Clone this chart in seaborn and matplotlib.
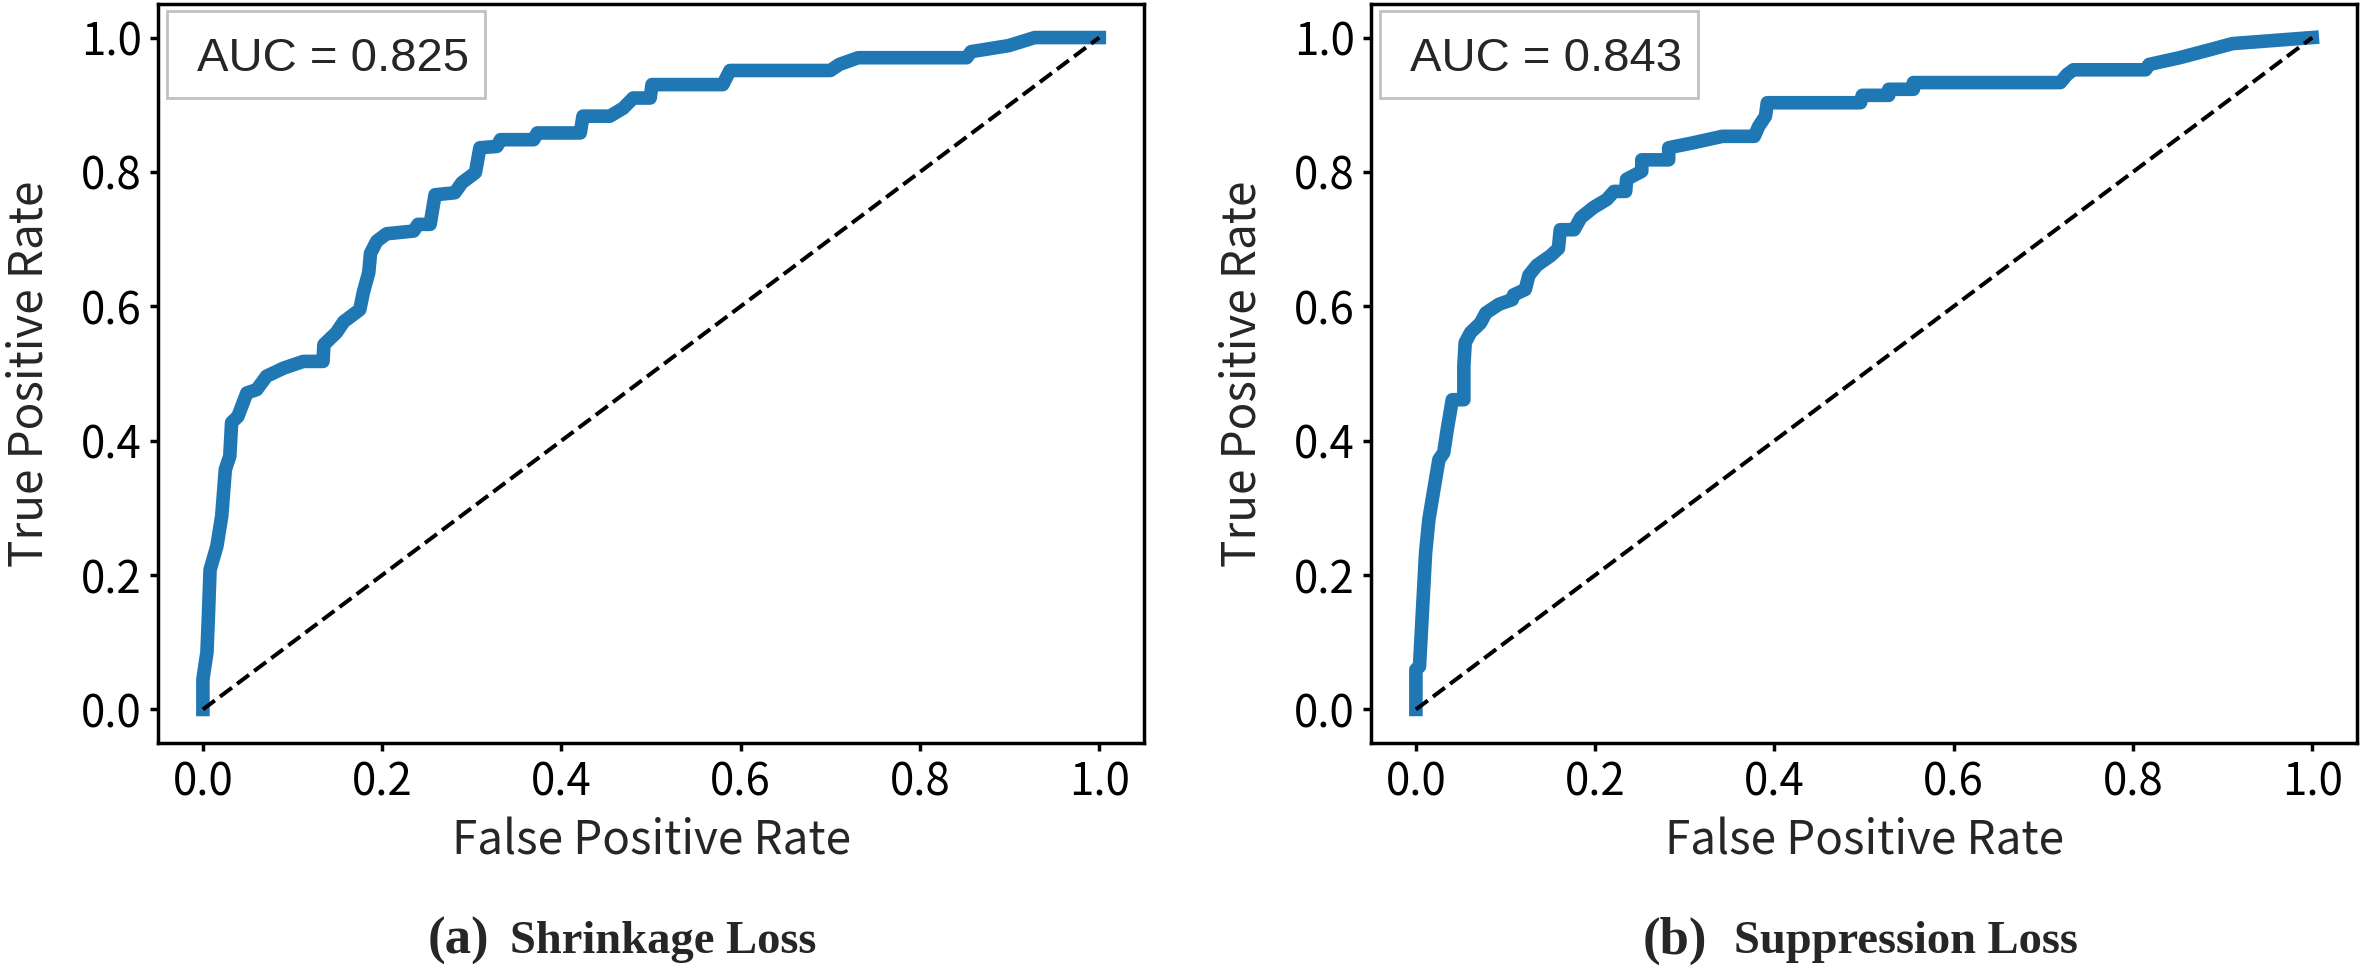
import matplotlib
matplotlib.use("Agg")
import matplotlib.pyplot as plt
import matplotlib.patches as mpatches
import pandas as pd
import seaborn as sns

# ROC curves
shrink_fpr = [0.0, 0.0, 0.0045, 0.006, 0.008, 0.0156, 0.021, 0.025, 0.030, 0.032,
              0.039, 0.049, 0.060, 0.071, 0.090, 0.112, 0.134, 0.135, 0.149, 0.157,
              0.175, 0.179, 0.185, 0.187, 0.194, 0.205, 0.235, 0.240, 0.2535, 0.259,
              0.281, 0.289, 0.304, 0.309, 0.328, 0.332, 0.369, 0.373, 0.421, 0.424,
              0.454, 0.469, 0.480, 0.499, 0.501, 0.580, 0.588, 0.700, 0.710, 0.731,
              0.852, 0.857, 0.899, 0.928, 1.0]
shrink_tpr = [0.0, 0.045, 0.085, 0.134, 0.208, 0.243, 0.288, 0.357, 0.377, 0.427,
              0.436, 0.471, 0.476, 0.496, 0.508, 0.518, 0.518, 0.543, 0.561, 0.577,
              0.595, 0.621, 0.650, 0.679, 0.697, 0.708, 0.712, 0.722, 0.722, 0.766,
              0.769, 0.784, 0.799, 0.836, 0.838, 0.848, 0.848, 0.858, 0.858, 0.883,
              0.883, 0.895, 0.910, 0.910, 0.930, 0.930, 0.951, 0.951, 0.960, 0.970,
              0.970, 0.979, 0.988, 1.0, 1.0]

suppress_fpr = [0.0, 0.0, 0.004, 0.0108, 0.0145, 0.020, 0.0257, 0.031, 0.035, 0.0406,
                0.0535, 0.0535, 0.055, 0.061, 0.072, 0.078, 0.0926, 0.1075, 0.109, 0.122,
                0.126, 0.135, 0.150, 0.159, 0.161, 0.1765, 0.184, 0.198, 0.213, 0.221,
                0.234, 0.235, 0.252, 0.252, 0.282, 0.282, 0.308, 0.342, 0.3775, 0.3825,
                0.390, 0.392, 0.496, 0.498, 0.5275, 0.5275, 0.555, 0.555, 0.719, 0.7265,
                0.7335, 0.814, 0.818, 0.852, 0.886, 0.911, 1.0]
suppress_tpr = [0.0, 0.0595, 0.064, 0.233, 0.283, 0.327, 0.372, 0.382, 0.417, 0.461,
                0.461, 0.511, 0.546, 0.561, 0.575, 0.590, 0.603, 0.610, 0.617, 0.625,
                0.646, 0.661, 0.675, 0.686, 0.714, 0.714, 0.732, 0.747, 0.759, 0.771,
                0.771, 0.789, 0.801, 0.818, 0.818, 0.836, 0.843, 0.853, 0.853, 0.868,
                0.883, 0.903, 0.903, 0.914, 0.914, 0.923, 0.923, 0.933, 0.933, 0.945,
                0.952, 0.952, 0.960, 0.970, 0.982, 0.991, 1.0]

auc_values = [0.825, 0.843]
panel_tags = ["(a)", "(b)"]
panel_names = ["Shrinkage Loss", "Suppression Loss"]
tick_values = [0.0, 0.2, 0.4, 0.6, 0.8, 1.0]
tick_labels = ["0.0", "0.2", "0.4", "0.6", "0.8", "1.0"]

sns.set_style("ticks")
plt.rcParams['font.family'] = ['Noto Sans CJK SC', 'DejaVu Sans']

fig, axes = plt.subplots(1, 2, figsize=(23.63, 9.67), dpi=100)
fig.subplots_adjust(left=0.0669, right=0.9975, bottom=0.2316, top=0.9959, wspace=0.2302)

curves = [(shrink_fpr, shrink_tpr), (suppress_fpr, suppress_tpr)]
tag_x = [0.1811, 0.6953]
name_x = [0.2158, 0.7338]

for i, ax in enumerate(axes):
    fpr, tpr = curves[i]
    df = pd.DataFrame({"fpr": fpr, "tpr": tpr})
    sns.lineplot(data=df, x="fpr", y="tpr", ax=ax, sort=False, estimator=None,
                 color="#1f77b4", linewidth=9.8, solid_capstyle="projecting")
    ax.plot([0, 1], [0, 1], color="black", linestyle="--", linewidth=2.9)

    ax.set_xlim(-0.05, 1.05)
    ax.set_ylim(-0.05, 1.05)
    ax.set_xticks(tick_values)
    ax.set_xticklabels(tick_labels)
    ax.set_yticks(tick_values)
    ax.set_yticklabels(tick_labels)
    ax.tick_params(labelsize=31.5, length=5.8, width=2.5, colors="black", pad=6)
    ax.set_xlabel("False Positive Rate", fontsize=33, labelpad=8)
    ax.set_ylabel("True Positive Rate", fontsize=33, labelpad=20)
    for sp in ax.spines.values():
        sp.set_linewidth(2.5)
        sp.set_color("black")

    # AUC box in the upper left corner
    box = mpatches.Rectangle((0.0091, 0.8728), 0.3225, 0.1177, transform=ax.transAxes,
                             facecolor="white", edgecolor="#c0c0c0", linewidth=2, zorder=5)
    ax.add_patch(box)
    ax.text(0.0396, 0.9093, f"AUC = {auc_values[i]:.3f}", transform=ax.transAxes,
            ha="left", va="baseline", fontsize=34, family="Liberation Sans", zorder=6)

    # panel caption: larger tag, then the name
    fig.text(tag_x[i], 0.0140, panel_tags[i], ha="left", va="baseline",
             fontsize=38, fontweight="bold", family="Liberation Serif")
    fig.text(name_x[i], 0.0140, panel_names[i], ha="left", va="baseline",
             fontsize=33.5, fontweight="bold", family="Liberation Serif")

fig.savefig("out.png", dpi=100)
